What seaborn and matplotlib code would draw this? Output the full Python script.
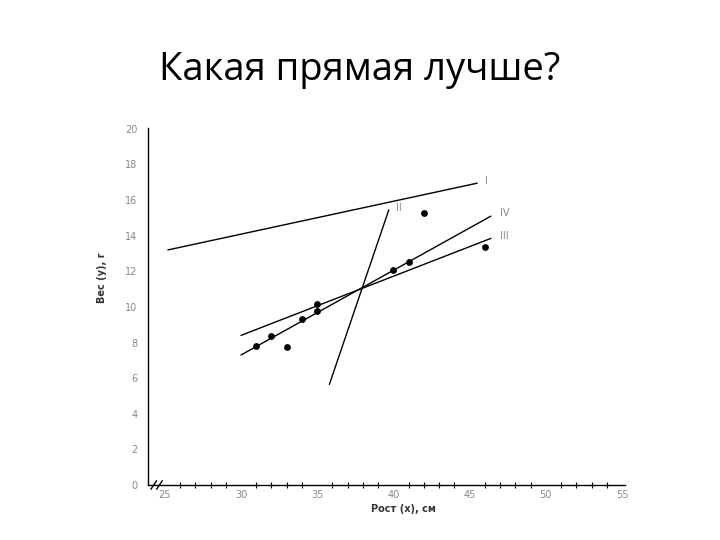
import numpy as np
import pandas as pd
import seaborn as sns
import matplotlib.pyplot as plt

# measured points: height (x, cm) and weight (y, g)
height = [31, 32, 33, 34, 35, 35, 40, 41, 42, 46]
weight = [7.8, 8.35, 7.75, 9.3, 10.15, 9.75, 12.1, 12.5, 15.3, 13.35]

# candidate lines, given by their end points
line_names = ['I', 'II', 'III', 'IV']
line_x0 = [25.2, 35.8, 30.0, 30.0]
line_x1 = [45.5, 39.7, 46.4, 46.4]
line_y0 = [13.2, 5.65, 8.4, 7.3]
line_y1 = [16.95, 15.45, 13.85, 15.1]

sns.set_style('white')

pts = pd.DataFrame({'x': height, 'y': weight})
lines = pd.DataFrame({
    'name': line_names * 2,
    'x': line_x0 + line_x1,
    'y': line_y0 + line_y1,
})

fig = plt.figure(figsize=(7.2, 5.4), dpi=100)
fig.text(0.5, 0.87, 'Какая прямая лучше?', ha='center', va='center',
         fontsize=27.5, family='Open Sans', color='black')

ax = fig.add_axes([0.2056, 0.1019, 0.6625, 0.6611])
sns.lineplot(data=lines, x='x', y='y', units='name', estimator=None,
             color='black', linewidth=1.0, ax=ax)
sns.scatterplot(data=pts, x='x', y='y', color='black', s=24,
                edgecolor='black', linewidth=0, ax=ax)

# line labels
lab_dx = [0.5, 0.5, 0.6, 0.6]
lab_dy = [0.1, 0.1, 0.15, 0.15]
for n, x1, y1, dx, dy in zip(line_names, line_x1, line_y1, lab_dx, lab_dy):
    ax.text(x1 + dx, y1 + dy, n, fontsize=7, color='#888888',
            ha='left', va='center')

ax.set_xlim(23.9, 55.2)
ax.set_ylim(0, 20.05)
ax.set_xticks([25, 30, 35, 40, 45, 50, 55])
ax.set_xticks(np.arange(26, 55, 1), minor=True)
ax.set_yticks(np.arange(0, 21, 2))
ax.tick_params(axis='both', which='major', labelsize=7, labelcolor='#888888',
               length=4, width=0.8, color='black', direction='out')
ax.tick_params(axis='x', which='major', direction='inout', length=5, pad=1)
ax.tick_params(axis='x', which='minor', direction='inout', length=4,
               width=0.8, color='black', bottom=True)
for s in ['top', 'right']:
    ax.spines[s].set_visible(False)
for s in ['left', 'bottom']:
    ax.spines[s].set_color('black')
    ax.spines[s].set_linewidth(1.0)

ax.set_xlabel('Рост (x), см', fontsize=7, fontweight='bold', color='#333333')
ax.set_ylabel('Вес (y), г', fontsize=7, fontweight='bold', color='#333333')
ax.xaxis.set_label_coords(0.535, -0.052)
ax.yaxis.set_label_coords(-0.085, 0.58)

# axis break marks
for off in [0.012, 0.024]:
    ax.plot([off - 0.006, off + 0.006], [-0.012, 0.012], color='black',
            linewidth=1.0, transform=ax.transAxes, clip_on=False)

fig.savefig('out.png', dpi=100)
